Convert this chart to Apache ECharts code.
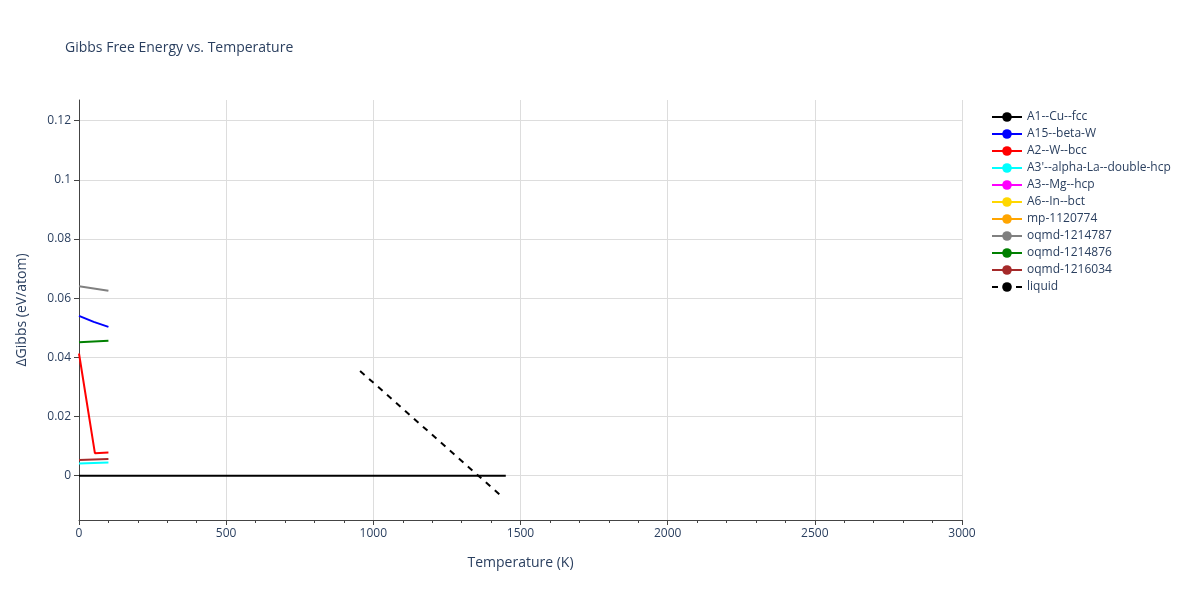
<!DOCTYPE html>
<html>
<head>
<meta charset="utf-8">
<script src="https://cdn.jsdelivr.net/npm/echarts@6/dist/echarts.min.js"></script>
<style>html,body{margin:0;padding:0;background:#fff}#main{width:1200px;height:600px}</style>
</head>
<body>
<div id="main"></div>
<script>
// series names and colours
var names = ['A1--Cu--fcc','A15--beta-W','A2--W--bcc',"A3'--alpha-La--double-hcp",'A3--Mg--hcp','A6--In--bct','mp-1120774','oqmd-1214787','oqmd-1214876','oqmd-1216034','liquid'];
var colors = ['#000000','#0000ff','#ff0000','#00ffff','#ff00ff','#ffd700','#ffa500','#808080','#008000','#a52a2a','#000000'];
var yTicks = [0, 0.02, 0.04, 0.06, 0.08, 0.1, 0.12];

// [temperature, dG]
var cuFcc = [[0,0],[1450,0]];
var betaW = [[0,0.054],[50,0.052],[100,0.0503]];
var wBcc = [[0,0.0413],[54,0.0076],[100,0.0078]];
var laDhcp = [[0,0.0041],[100,0.0044]];
var mgHcp = [];
var inBct = [];
var mp1120774 = [];
var oqmd1214787 = [[0,0.064],[100,0.0625]];
var oqmd1214876 = [[0,0.0451],[100,0.0456]];
var oqmd1216034 = [[0,0.0053],[100,0.0056]];
var liquid = [[955,0.0354],[1437,-0.0071]];

var allData = [cuFcc,betaW,wBcc,laDhcp,mgHcp,inBct,mp1120774,oqmd1214787,oqmd1214876,oqmd1216034,liquid];

var series = [];
for (var i = 0; i < names.length; i++) {
  series.push({
    name: names[i],
    type: 'line',
    data: allData[i],
    showSymbol: false,
    symbol: 'none',
    z: i == 0 ? 5 : 3,
    lineStyle: {color: colors[i], width: 2, type: i == 10 ? [6,6] : 'solid'},
    itemStyle: {color: colors[i]}
  });
}

var chart = echarts.init(document.getElementById('main'));
chart.setOption({
  animation: false,
  title: {text: 'Gibbs Free Energy vs. Temperature', left: 60, top: 36,
    textStyle: {fontSize: 14, fontWeight: 'normal', color: '#2a3f5f', fontFamily: 'Open Sans'}},
  legend: {
    orient: 'vertical', left: 986, top: 106, itemGap: 5, itemWidth: 30, itemHeight: 12,
    textStyle: {fontSize: 12, color: '#2a3f5f', fontFamily: 'Open Sans'},
    data: names
  },
  grid: {left: 79, right: 238, top: 100, bottom: 80},
  xAxis: {
    type: 'value', min: 0, max: 3000, interval: 500,
    name: 'Temperature (K)', nameLocation: 'middle', nameGap: 36,
    nameTextStyle: {fontSize: 14, color: '#2a3f5f', fontFamily: 'Open Sans'},
    axisLine: {show: true, onZero: false, lineStyle: {color: '#444'}},
    axisTick: {show: true, length: 5, lineStyle: {color: '#444'}},
    minorTick: {show: true, splitNumber: 5, length: 3, lineStyle: {color: '#444'}},
    axisLabel: {fontSize: 12, color: '#2a3f5f', fontFamily: 'Open Sans', formatter: function (v) { return String(v); }},
    splitLine: {show: true, lineStyle: {color: '#ddd'}}
  },
  yAxis: {
    type: 'value', min: -0.015, max: 0.127,
    name: 'ΔGibbs (eV/atom)', nameLocation: 'middle', nameGap: 50,
    nameTextStyle: {fontSize: 14, color: '#2a3f5f', fontFamily: 'Open Sans'},
    axisLine: {show: true, onZero: false, lineStyle: {color: '#444'}},
    axisTick: {show: true, length: 5, customValues: yTicks, lineStyle: {color: '#444'}},
    axisLabel: {fontSize: 12, color: '#2a3f5f', fontFamily: 'Open Sans', customValues: yTicks,
      formatter: function (v) { return String(Math.round(v * 100) / 100); }},
    splitLine: {show: true, lineStyle: {color: '#ddd'}}
  },
  series: series
});
</script>
</body>
</html>
